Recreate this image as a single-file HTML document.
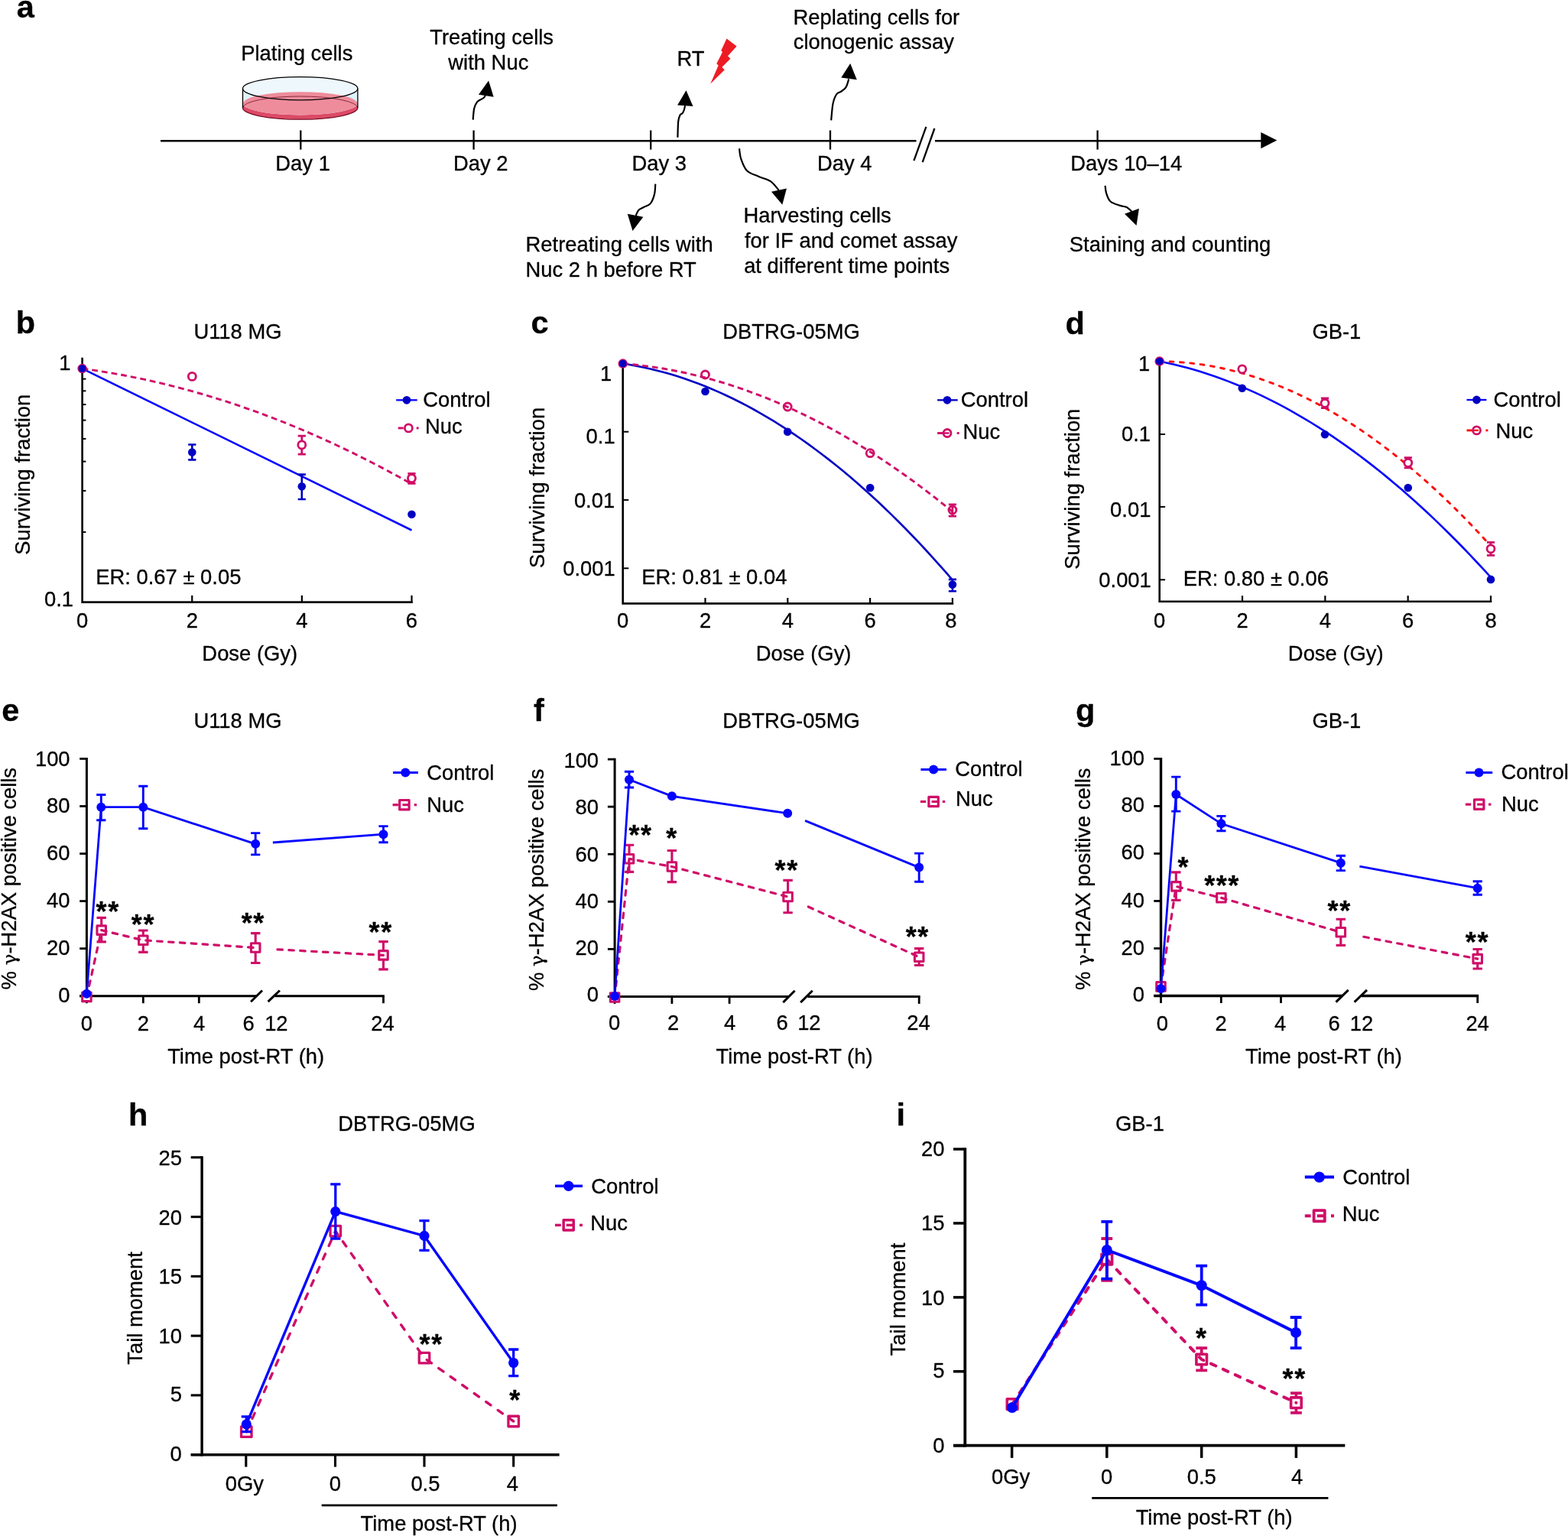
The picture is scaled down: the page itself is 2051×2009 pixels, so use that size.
<!DOCTYPE html>
<html lang="en">
<head>
<meta charset="utf-8">
<title>Figure: Nuc radiosensitization of glioblastoma cells</title>
<style>
html,body{margin:0;padding:0;background:#fff;}
body{width:2051px;height:2009px;overflow:hidden;}
svg{display:block;font-family:'Liberation Sans', 'DejaVu Sans', sans-serif;font-size:27.4px;fill:#000;}
text{stroke:#000;stroke-width:0.3px;stroke-linejoin:round;}
</style>
</head>
<body>
<svg xmlns="http://www.w3.org/2000/svg" width="2051" height="2009" viewBox="0 0 2051 2009" role="img" aria-label="Figure panels a to i">
<g id="panel-a">
<text x="21.86" y="23" font-size="41.5" font-weight="bold">a</text>
<line x1="210" y1="184.3" x2="1198.5" y2="184.3" stroke="#000" stroke-width="2.4"/>
<line x1="1223" y1="184.3" x2="1652" y2="184.3" stroke="#000" stroke-width="2.4"/>
<polygon points="1649.3,172.9 1670.3,183.6 1649.3,194.2" fill="#000"/>
<line x1="1211.4" y1="165.9" x2="1195.4" y2="210.1" stroke="#000" stroke-width="2.3"/>
<line x1="1222.4" y1="168" x2="1206.7" y2="212.1" stroke="#000" stroke-width="2.3"/>
<line x1="393.3" y1="170.5" x2="393.3" y2="195.6" stroke="#000" stroke-width="2.3"/>
<line x1="619.6" y1="170.5" x2="619.6" y2="195.6" stroke="#000" stroke-width="2.3"/>
<line x1="851.2" y1="170.5" x2="851.2" y2="195.6" stroke="#000" stroke-width="2.3"/>
<line x1="1086" y1="170.5" x2="1086" y2="195.6" stroke="#000" stroke-width="2.3"/>
<line x1="1435.6" y1="170.5" x2="1435.6" y2="195.6" stroke="#000" stroke-width="2.3"/>
<text x="360.34" y="223.2">Day 1</text>
<text x="592.94" y="223.2">Day 2</text>
<text x="826.44" y="223.2">Day 3</text>
<text x="1068.94" y="223.2">Day 4</text>
<text x="1400.14" y="223.2">Days 10–14</text>
<text x="315.24" y="79">Plating cells</text>
<text x="562.18" y="57.5">Treating cells</text>
<text x="586.3" y="90.7">with Nuc</text>
<text x="885.44" y="86.4">RT</text>
<text x="1037.54" y="31.6">Replating cells for</text>
<text x="1037.74" y="63.7">clonogenic assay</text>
<text x="687.54" y="328.9">Retreating cells with</text>
<text x="687.54" y="362.1">Nuc 2 h before RT</text>
<text x="972.44" y="291.1">Harvesting cells</text>
<text x="973.89" y="324.3">for IF and comet assay</text>
<text x="973.14" y="357.2">at different time points</text>
<text x="1398.77" y="328.6">Staining and counting</text>
<polygon points="950.5,50.4 963.6,60.4 952,73.2 955.4,76.8 944.3,87.9 947.8,91.3 929.2,109.8 939.7,85.6 937.3,83.3 945.1,68.1 943.2,66.3" fill="#ed1c24"/>
<path d="M317.5 115.7V141.1A75.2 15.1 0 0 0 467.9 141.1V115.7A75.2 15.1 0 0 0 317.5 115.7Z" fill="#dff1f9"/>
<ellipse cx="392.7" cy="115.7" rx="75.2" ry="15.1" fill="#eef8fc"/>
<path d="M317.5 135.3V141.1A75.2 15.1 0 0 0 467.9 141.1V135.3A75.2 15.1 0 0 1 317.5 135.3Z" fill="#dc4a66"/>
<ellipse cx="392.7" cy="135.3" rx="74.6" ry="15.1" fill="#ee8c9b"/>
<path d="M317.5 141.1A75.2 15.1 0 0 1 467.9 141.1" fill="none" stroke="#8a2a3c" stroke-width="1"/>
<path d="M317.5 141.1A75.2 15.1 0 0 0 467.9 141.1" fill="none" stroke="#7a1026" stroke-width="1.3"/>
<ellipse cx="392.7" cy="115.7" rx="75.2" ry="15.1" fill="none" stroke="#000" stroke-width="1.3"/>
<line x1="317.5" y1="115.7" x2="317.5" y2="141.1" stroke="#000" stroke-width="1.3"/>
<line x1="467.9" y1="115.7" x2="467.9" y2="141.1" stroke="#000" stroke-width="1.3"/>
<path d="M618.7 156.6C618.95 154.15 619.3 145.77 620.2 141.9C621.1 138.03 622.68 135.33 624.1 133.4C625.52 131.47 627.28 131.2 628.7 130.3C630.12 129.4 631.57 128.9 632.6 128C633.63 127.1 634.52 125.42 634.9 124.9" fill="none" stroke="#000" stroke-width="2.2"/>
<polygon points="639.1,105.6 626,123.7 645.7,126.8" fill="#000"/>
<path d="M886.4 179.7C886.53 176.23 886.68 163.78 887.2 158.9C887.72 154.02 888.6 152.2 889.5 150.4C890.4 148.6 891.7 149.25 892.6 148.1C893.5 146.95 894.33 145.17 894.9 143.5C895.47 141.83 895.82 139 896 138.1" fill="none" stroke="#000" stroke-width="2.2"/>
<polygon points="897.5,118.3 886.1,137.6 906.5,139.1" fill="#000"/>
<path d="M1087.2 157.4C1087.58 153.8 1088.35 141.45 1089.5 135.8C1090.65 130.15 1092.3 126.2 1094.1 123.5C1095.9 120.8 1098.23 121.15 1100.3 119.6C1102.37 118.05 1104.83 116.9 1106.5 114.2C1108.17 111.5 1109.67 105.2 1110.3 103.4" fill="none" stroke="#000" stroke-width="2.2"/>
<polygon points="1112.2,83 1100.3,101.5 1120.8,104.2" fill="#000"/>
<path d="M857.3 240.6C857.08 242.85 857.12 249.8 856 254.1C854.88 258.4 852.92 263.58 850.6 266.4C848.28 269.22 844.67 269.58 842.1 271C839.53 272.42 836.92 273.08 835.2 274.9C833.48 276.72 832.37 280.73 831.8 281.9" fill="none" stroke="#000" stroke-width="2.2"/>
<polygon points="827.5,301.9 820.8,279.8 841.4,283.7" fill="#000"/>
<path d="M967 194.2C967.38 196.47 967.63 202.97 969.3 207.8C970.97 212.63 973.13 219.35 977 223.2C980.87 227.05 987.35 228.58 992.5 230.9C997.65 233.22 1003.53 234.13 1007.9 237.1C1012.27 240.07 1016.9 246.77 1018.7 248.7" fill="none" stroke="#000" stroke-width="2.2"/>
<polygon points="1023.3,267.7 1009,250.7 1029,246.4" fill="#000"/>
<path d="M1445.6 242.9C1445.85 244.53 1445.95 249.27 1447.1 252.7C1448.25 256.13 1449.53 260.8 1452.5 263.5C1455.47 266.2 1461.3 267.62 1464.9 268.9C1468.5 270.18 1471.53 269.92 1474.1 271.2C1476.67 272.48 1479.27 275.7 1480.3 276.6" fill="none" stroke="#000" stroke-width="2.2"/>
<polygon points="1486.5,295.1 1471,279.7 1489.9,272.7" fill="#000"/>
</g>
<g id="panel-b">
<text x="20.7" y="436.3" font-size="41.5" font-weight="bold">b</text>
<text x="253.4" y="443.2">U118 MG</text>
<path d="M107.6 467.8V787.6H539.82" fill="none" stroke="#000" stroke-width="2.6" stroke-linejoin="miter"/>
<line x1="251.24" y1="787.6" x2="251.24" y2="778.8" stroke="#000" stroke-width="2.2"/>
<line x1="394.88" y1="787.6" x2="394.88" y2="778.8" stroke="#000" stroke-width="2.2"/>
<line x1="538.52" y1="787.6" x2="538.52" y2="778.8" stroke="#000" stroke-width="2.2"/>
<text x="99.96" y="821.2">0</text>
<text x="243.64" y="821.2">2</text>
<text x="387.34" y="821.2">4</text>
<text x="530.81" y="821.2">6</text>
<line x1="107.6" y1="695.9" x2="112.4" y2="695.9" stroke="#000" stroke-width="2"/>
<line x1="107.6" y1="641.91" x2="112.4" y2="641.91" stroke="#000" stroke-width="2"/>
<line x1="107.6" y1="603.61" x2="112.4" y2="603.61" stroke="#000" stroke-width="2"/>
<line x1="107.6" y1="573.9" x2="112.4" y2="573.9" stroke="#000" stroke-width="2"/>
<line x1="107.6" y1="549.62" x2="112.4" y2="549.62" stroke="#000" stroke-width="2"/>
<line x1="107.6" y1="529.09" x2="112.4" y2="529.09" stroke="#000" stroke-width="2"/>
<line x1="107.6" y1="511.31" x2="112.4" y2="511.31" stroke="#000" stroke-width="2"/>
<line x1="107.6" y1="495.63" x2="112.4" y2="495.63" stroke="#000" stroke-width="2"/>
<text x="77.15" y="484.4">1</text>
<text x="58" y="792.8">0.1</text>
<text x="264.36" y="864.2">Dose (Gy)</text>
<text transform="translate(39.3 725.83) rotate(-90)">Surviving fraction</text>
<text x="125.24" y="763.9">ER: 0.67 ± 0.05</text>
<polyline points="107.6,482.1 538.5,693.5" fill="none" stroke="#0505ff" stroke-width="2.6" stroke-linejoin="round"/>
<polyline points="107.6,482.1 116.58,483.34 125.55,484.67 134.53,486.07 143.51,487.56 152.49,489.12 161.46,490.77 170.44,492.5 179.42,494.31 188.4,496.2 197.38,498.17 206.35,500.22 215.33,502.36 224.31,504.57 233.28,506.87 242.26,509.24 251.24,511.7 260.22,514.24 269.19,516.86 278.17,519.56 287.15,522.34 296.13,525.2 305.11,528.14 314.08,531.17 323.06,534.27 332.04,537.46 341.01,540.72 349.99,544.07 358.97,547.5 367.95,551.01 376.92,554.6 385.9,558.27 394.88,562.02 403.86,565.85 412.83,569.77 421.81,573.76 430.79,577.84 439.77,581.99 448.75,586.23 457.72,590.55 466.7,594.95 475.68,599.43 484.65,603.99 493.63,608.63 502.61,613.36 511.59,618.16 520.56,623.05 529.54,628.01 538.52,633.06" fill="none" stroke="#cf0d68" stroke-width="2.9" stroke-linejoin="round" stroke-dasharray="7.8 5"/>
<circle cx="251.3" cy="492.4" r="5" fill="#fff" stroke="#cf0d68" stroke-width="2.8"/>
<path d="M389.7 570.1H399.9M394.8 570.1V594.1M389.7 594.1H399.9" fill="none" stroke="#cf0d68" stroke-width="2.8"/>
<circle cx="394.8" cy="581.9" r="5" fill="#fff" stroke="#cf0d68" stroke-width="2.8"/>
<path d="M533.4 619.3H543.6M538.5 619.3V632.3M533.4 632.3H543.6" fill="none" stroke="#cf0d68" stroke-width="2.8"/>
<circle cx="538.5" cy="625.6" r="5" fill="#fff" stroke="#cf0d68" stroke-width="2.8"/>
<path d="M246.2 581.5H256.4M251.3 581.5V601.4M246.2 601.4H256.4" fill="none" stroke="#0000c4" stroke-width="2.6"/>
<circle cx="251.3" cy="591.5" r="5.3" fill="#0000c4"/>
<path d="M389.7 620.6H399.9M394.8 620.6V653M389.7 653H399.9" fill="none" stroke="#0000c4" stroke-width="2.6"/>
<circle cx="394.8" cy="636.2" r="5.3" fill="#0000c4"/>
<circle cx="538.5" cy="672.8" r="5.3" fill="#0000c4"/>
<circle cx="107.6" cy="482.1" r="5.6" fill="#0000c4" stroke="#cf0d68" stroke-width="1.3"/>
<line x1="518.2" y1="523.3" x2="545.7" y2="523.3" stroke="#0505ff" stroke-width="2.3"/>
<circle cx="532" cy="523.3" r="5.4" fill="#0000c4"/>
<text x="553.33" y="532.3">Control</text>
<line x1="520.7" y1="559.9" x2="527.7" y2="559.9" stroke="#cf0d68" stroke-width="2.9"/>
<line x1="544.7" y1="559.9" x2="547.7" y2="559.9" stroke="#cf0d68" stroke-width="2.9"/>
<circle cx="534.4" cy="559.9" r="5" fill="#fff" stroke="#cf0d68" stroke-width="2.8"/>
<text x="556.04" y="567.4">Nuc</text>
</g>
<g id="panel-c">
<text x="694.54" y="436.3" font-size="41.5" font-weight="bold">c</text>
<text x="945.23" y="443.2">DBTRG-05MG</text>
<path d="M814.7 475.6V789.4H1247.2" fill="none" stroke="#000" stroke-width="2.6" stroke-linejoin="miter"/>
<line x1="922.5" y1="789.4" x2="922.5" y2="782" stroke="#000" stroke-width="2.2"/>
<line x1="1030.3" y1="789.4" x2="1030.3" y2="782" stroke="#000" stroke-width="2.2"/>
<line x1="1138.1" y1="789.4" x2="1138.1" y2="782" stroke="#000" stroke-width="2.2"/>
<line x1="1245.9" y1="789.4" x2="1245.9" y2="782" stroke="#000" stroke-width="2.2"/>
<text x="807.06" y="821.3">0</text>
<text x="914.9" y="821.3">2</text>
<text x="1022.76" y="821.3">4</text>
<text x="1130.39" y="821.3">6</text>
<text x="1236.3" y="821.3">8</text>
<line x1="814.7" y1="564.7" x2="822.3" y2="564.7" stroke="#000" stroke-width="2"/>
<line x1="814.7" y1="653.9" x2="822.3" y2="653.9" stroke="#000" stroke-width="2"/>
<line x1="814.7" y1="743.3" x2="822.3" y2="743.3" stroke="#000" stroke-width="2"/>
<text x="785.05" y="498.1">1</text>
<text x="766.6" y="579.5">0.1</text>
<text x="750.9" y="664.3">0.01</text>
<text x="736.2" y="752.5">0.001</text>
<text x="988.66" y="864.2">Dose (Gy)</text>
<text transform="translate(712 742.93) rotate(-90)">Surviving fraction</text>
<text x="839.24" y="763.9">ER: 0.81 ± 0.04</text>
<polyline points="814.7,475.6 823.68,477.03 832.67,478.65 841.65,480.46 850.63,482.46 859.62,484.65 868.6,487.03 877.58,489.6 886.57,492.36 895.55,495.31 904.53,498.45 913.52,501.78 922.5,505.3 931.48,509.01 940.47,512.91 949.45,517 958.43,521.28 967.42,525.75 976.4,530.41 985.38,535.26 994.37,540.3 1003.35,545.53 1012.33,550.95 1021.32,556.56 1030.3,562.36 1039.28,568.35 1048.27,574.53 1057.25,580.9 1066.23,587.46 1075.22,594.21 1084.2,601.15 1093.18,608.28 1102.17,615.6 1111.15,623.11 1120.13,630.81 1129.12,638.7 1138.1,646.78 1147.08,655.05 1156.07,663.51 1165.05,672.16 1174.03,681 1183.02,690.03 1192,699.25 1200.98,708.66 1209.97,718.26 1218.95,728.05 1227.93,738.03 1236.92,748.2 1245.9,758.56" fill="none" stroke="#0000c4" stroke-width="2.6" stroke-linejoin="round"/>
<polyline points="814.7,475.6 823.68,476.37 832.67,477.28 841.65,478.33 850.63,479.51 859.62,480.84 868.6,482.3 877.58,483.9 886.57,485.64 895.55,487.53 904.53,489.54 913.52,491.7 922.5,494 931.48,496.44 940.47,499.01 949.45,501.73 958.43,504.58 967.42,507.57 976.4,510.7 985.38,513.97 994.37,517.38 1003.35,520.92 1012.33,524.61 1021.32,528.44 1030.3,532.4 1039.28,536.5 1048.27,540.74 1057.25,545.12 1066.23,549.64 1075.22,554.3 1084.2,559.1 1093.18,564.04 1102.17,569.11 1111.15,574.33 1120.13,579.68 1129.12,585.17 1138.1,590.8 1147.08,596.57 1156.07,602.48 1165.05,608.53 1174.03,614.71 1183.02,621.04 1192,627.5 1200.98,634.1 1209.97,640.84 1218.95,647.73 1227.93,654.74 1236.92,661.9 1245.9,669.2" fill="none" stroke="#cf0d68" stroke-width="2.9" stroke-linejoin="round" stroke-dasharray="7.8 5"/>
<circle cx="922.5" cy="490" r="5" fill="none" stroke="#cf0d68" stroke-width="2.8"/>
<circle cx="1030.2" cy="532" r="5" fill="none" stroke="#cf0d68" stroke-width="2.8"/>
<circle cx="1138.2" cy="592.7" r="5" fill="none" stroke="#cf0d68" stroke-width="2.8"/>
<path d="M1240.8 659.8H1251M1245.9 659.8V675.1M1240.8 675.1H1251" fill="none" stroke="#cf0d68" stroke-width="2.8"/>
<circle cx="1245.9" cy="667" r="5" fill="none" stroke="#cf0d68" stroke-width="2.8"/>
<circle cx="922.5" cy="512" r="5.3" fill="#0000c4"/>
<circle cx="1030.2" cy="564.7" r="5.3" fill="#0000c4"/>
<circle cx="1138.2" cy="638" r="5.3" fill="#0000c4"/>
<path d="M1240.8 757.9H1251M1245.9 757.9V773.2M1240.8 773.2H1251" fill="none" stroke="#0000c4" stroke-width="2.6"/>
<circle cx="1245.9" cy="764.6" r="5.3" fill="#0000c4"/>
<circle cx="814.7" cy="475.6" r="5.6" fill="#0000c4" stroke="#cf0d68" stroke-width="1.3"/>
<line x1="1226.1" y1="523.3" x2="1252.7" y2="523.3" stroke="#0000c4" stroke-width="2.3"/>
<circle cx="1239" cy="523.3" r="5.4" fill="#0000c4"/>
<text x="1256.73" y="532.3">Control</text>
<line x1="1226.1" y1="566.5" x2="1233.1" y2="566.5" stroke="#cf0d68" stroke-width="2.9"/>
<line x1="1251.7" y1="566.5" x2="1254.7" y2="566.5" stroke="#cf0d68" stroke-width="2.9"/>
<circle cx="1239" cy="566.5" r="5" fill="#fff" stroke="#cf0d68" stroke-width="2.8"/>
<line x1="1234.5" y1="566.5" x2="1241.5" y2="566.5" stroke="#cf0d68" stroke-width="2.4"/>
<text x="1259.44" y="573.7">Nuc</text>
</g>
<g id="panel-d">
<text x="1393.54" y="436.5" font-size="41.5" font-weight="bold">d</text>
<text x="1716.41" y="443.2">GB-1</text>
<path d="M1516.7 472.6V786.7H1951.28" fill="none" stroke="#000" stroke-width="2.6" stroke-linejoin="miter"/>
<line x1="1625.02" y1="786.7" x2="1625.02" y2="779.1" stroke="#000" stroke-width="2.2"/>
<line x1="1733.34" y1="786.7" x2="1733.34" y2="779.1" stroke="#000" stroke-width="2.2"/>
<line x1="1841.66" y1="786.7" x2="1841.66" y2="779.1" stroke="#000" stroke-width="2.2"/>
<line x1="1949.98" y1="786.7" x2="1949.98" y2="779.1" stroke="#000" stroke-width="2.2"/>
<text x="1509.06" y="821.3">0</text>
<text x="1617.42" y="821.3">2</text>
<text x="1725.81" y="821.3">4</text>
<text x="1833.95" y="821.3">6</text>
<text x="1942.38" y="821.3">8</text>
<line x1="1516.7" y1="568" x2="1524.1" y2="568" stroke="#000" stroke-width="2"/>
<line x1="1516.7" y1="662.9" x2="1524.1" y2="662.9" stroke="#000" stroke-width="2"/>
<line x1="1516.7" y1="758.3" x2="1524.1" y2="758.3" stroke="#000" stroke-width="2"/>
<text x="1488.94" y="484.6">1</text>
<text x="1467" y="577.3">0.1</text>
<text x="1452.1" y="676">0.01</text>
<text x="1437.3" y="767.5">0.001</text>
<text x="1684.86" y="864.2">Dose (Gy)</text>
<text transform="translate(1412.3 744.73) rotate(-90)">Surviving fraction</text>
<text x="1547.74" y="765.7">ER: 0.80 ± 0.06</text>
<polyline points="1516.7,472.6 1525.73,474.45 1534.75,476.48 1543.78,478.67 1552.81,481.04 1561.83,483.58 1570.86,486.29 1579.89,489.17 1588.91,492.23 1597.94,495.45 1606.97,498.85 1615.99,502.42 1625.02,506.16 1634.05,510.07 1643.07,514.16 1652.1,518.41 1661.13,522.84 1670.15,527.44 1679.18,532.21 1688.21,537.15 1697.23,542.27 1706.26,547.55 1715.29,553.01 1724.31,558.64 1733.34,564.44 1742.37,570.41 1751.39,576.56 1760.42,582.87 1769.45,589.36 1778.47,596.02 1787.5,602.85 1796.53,609.85 1805.55,617.03 1814.58,624.37 1823.61,631.89 1832.63,639.58 1841.66,647.44 1850.69,655.47 1859.71,663.68 1868.74,672.05 1877.77,680.6 1886.79,689.32 1895.82,698.21 1904.85,707.27 1913.87,716.51 1922.9,725.91 1931.93,735.49 1940.95,745.24 1949.98,755.16" fill="none" stroke="#0505ff" stroke-width="2.6" stroke-linejoin="round"/>
<polyline points="1516.7,472.6 1525.73,472.76 1534.75,473.13 1543.78,473.7 1552.81,474.48 1561.83,475.47 1570.86,476.67 1579.89,478.07 1588.91,479.68 1597.94,481.5 1606.97,483.53 1615.99,485.76 1625.02,488.2 1634.05,490.85 1643.07,493.7 1652.1,496.76 1661.13,500.03 1670.15,503.51 1679.18,507.19 1688.21,511.08 1697.23,515.18 1706.26,519.48 1715.29,523.99 1724.31,528.71 1733.34,533.64 1742.37,538.77 1751.39,544.11 1760.42,549.66 1769.45,555.42 1778.47,561.38 1787.5,567.55 1796.53,573.93 1805.55,580.51 1814.58,587.3 1823.61,594.3 1832.63,601.51 1841.66,608.92 1850.69,616.54 1859.71,624.37 1868.74,632.4 1877.77,640.64 1886.79,649.09 1895.82,657.75 1904.85,666.61 1913.87,675.68 1922.9,684.96 1931.93,694.45 1940.95,704.14 1949.98,714.04" fill="none" stroke="#ff0d0d" stroke-width="2.9" stroke-dasharray="4.9 8.5" stroke-linecap="round" stroke-linejoin="round"/>
<circle cx="1624.8" cy="482.8" r="5" fill="#fff" stroke="#cf0d68" stroke-width="2.8"/>
<path d="M1727.9 521H1738.1M1733 521V533.6M1727.9 533.6H1738.1" fill="none" stroke="#cf0d68" stroke-width="2.8"/>
<circle cx="1733" cy="527.3" r="5" fill="#fff" stroke="#cf0d68" stroke-width="2.8"/>
<path d="M1836.7 598.6H1846.9M1841.8 598.6V611.9M1836.7 611.9H1846.9" fill="none" stroke="#cf0d68" stroke-width="2.8"/>
<circle cx="1841.8" cy="605.3" r="5" fill="#fff" stroke="#cf0d68" stroke-width="2.8"/>
<path d="M1944.9 709.3H1955.1M1950 709.3V726.4M1944.9 726.4H1955.1" fill="none" stroke="#cf0d68" stroke-width="2.8"/>
<circle cx="1950" cy="717.8" r="5" fill="#fff" stroke="#cf0d68" stroke-width="2.8"/>
<circle cx="1624.8" cy="507.7" r="5.3" fill="#0000c4"/>
<circle cx="1733" cy="568.3" r="5.3" fill="#0000c4"/>
<circle cx="1841.8" cy="638" r="5.3" fill="#0000c4"/>
<circle cx="1950" cy="757.9" r="5.3" fill="#0000c4"/>
<circle cx="1516.7" cy="472.6" r="5.6" fill="#0000c4" stroke="#cf0d68" stroke-width="1.3"/>
<line x1="1918.5" y1="523" x2="1944.4" y2="523" stroke="#0505ff" stroke-width="2.3"/>
<circle cx="1931.5" cy="523" r="5.4" fill="#0000c4"/>
<text x="1953.53" y="531.6">Control</text>
<line x1="1918.5" y1="562.9" x2="1925.5" y2="562.9" stroke="#ff0d0d" stroke-width="2.9"/>
<line x1="1943.4" y1="562.9" x2="1946.4" y2="562.9" stroke="#ff0d0d" stroke-width="2.9"/>
<circle cx="1931.5" cy="562.9" r="5" fill="#fff" stroke="#cf0d68" stroke-width="2.8"/>
<line x1="1927" y1="562.9" x2="1934" y2="562.9" stroke="#ff0d0d" stroke-width="2.4"/>
<text x="1956.54" y="572.8">Nuc</text>
</g>
<g id="panel-e">
<text x="2.34" y="943.2" font-size="41.5" font-weight="bold">e</text>
<text x="253.4" y="951.9">U118 MG</text>
<line x1="113.4" y1="991.1" x2="113.4" y2="1304.2" stroke="#000" stroke-width="3"/>
<line x1="104.2" y1="1302.7" x2="113.4" y2="1302.7" stroke="#000" stroke-width="2.8"/>
<text x="76.32" y="1311.1">0</text>
<line x1="104.2" y1="1240.64" x2="113.4" y2="1240.64" stroke="#000" stroke-width="2.8"/>
<text x="61.11" y="1249.4">20</text>
<line x1="104.2" y1="1178.58" x2="113.4" y2="1178.58" stroke="#000" stroke-width="2.8"/>
<text x="61.11" y="1187.3">40</text>
<line x1="104.2" y1="1116.52" x2="113.4" y2="1116.52" stroke="#000" stroke-width="2.8"/>
<text x="61.11" y="1125.1">60</text>
<line x1="104.2" y1="1054.46" x2="113.4" y2="1054.46" stroke="#000" stroke-width="2.8"/>
<text x="61.11" y="1062.9">80</text>
<line x1="104.2" y1="992.4" x2="113.4" y2="992.4" stroke="#000" stroke-width="2.8"/>
<text x="45.91" y="1001.7">100</text>
<line x1="104.2" y1="1302.7" x2="336" y2="1302.7" stroke="#000" stroke-width="3"/>
<line x1="359.5" y1="1302.7" x2="502.9" y2="1302.7" stroke="#000" stroke-width="3"/>
<line x1="113.4" y1="1302.7" x2="113.4" y2="1312.2" stroke="#000" stroke-width="2.8"/>
<line x1="187.3" y1="1302.7" x2="187.3" y2="1312.2" stroke="#000" stroke-width="2.8"/>
<line x1="260.3" y1="1302.7" x2="260.3" y2="1312.2" stroke="#000" stroke-width="2.8"/>
<line x1="501.5" y1="1302.7" x2="501.5" y2="1312.2" stroke="#000" stroke-width="2.8"/>
<line x1="328.1" y1="1310.2" x2="343" y2="1295.5" stroke="#000" stroke-width="3"/>
<line x1="350.6" y1="1310.2" x2="365.9" y2="1295.5" stroke="#000" stroke-width="3"/>
<text x="105.76" y="1347.7">0</text>
<text x="179.7" y="1347.7">2</text>
<text x="252.97" y="1347.7">4</text>
<text x="317.59" y="1347.7">6</text>
<text x="346.15" y="1347.7">12</text>
<text x="485.28" y="1347.7">24</text>
<text x="219.15" y="1391.3">Time post-RT (h)</text>
<text text-anchor="end" transform="translate(20.5 1003.94) rotate(-90)">% <tspan font-family="'DejaVu Serif', 'Liberation Serif', serif" font-size="25" stroke-width="0.2">γ</tspan>-H2AX positive cells</text>
<path d="M126.5 1200.4H138.9M132.7 1200.4V1231.9M126.5 1231.9H138.9" fill="none" stroke="#cf0d68" stroke-width="3.1"/>
<path d="M181.1 1217H193.5M187.3 1217V1245.4M181.1 1245.4H193.5" fill="none" stroke="#cf0d68" stroke-width="3.1"/>
<path d="M328 1220.6H340.4M334.2 1220.6V1259.5M328 1259.5H340.4" fill="none" stroke="#cf0d68" stroke-width="3.1"/>
<path d="M495.3 1231.6H507.7M501.5 1231.6V1267.9M495.3 1267.9H507.7" fill="none" stroke="#cf0d68" stroke-width="3.1"/>
<rect x="107.65" y="1298.15" width="11.5" height="11.5" fill="#fff" stroke="#cf0d68" stroke-width="3.1" stroke-linejoin="round"/>
<rect x="126.95" y="1210.85" width="11.5" height="11.5" fill="#fff" stroke="#cf0d68" stroke-width="3.1" stroke-linejoin="round"/>
<rect x="181.55" y="1224.05" width="11.5" height="11.5" fill="#fff" stroke="#cf0d68" stroke-width="3.1" stroke-linejoin="round"/>
<rect x="328.45" y="1233.75" width="11.5" height="11.5" fill="#fff" stroke="#cf0d68" stroke-width="3.1" stroke-linejoin="round"/>
<rect x="495.75" y="1243.65" width="11.5" height="11.5" fill="#fff" stroke="#cf0d68" stroke-width="3.1" stroke-linejoin="round"/>
<polyline points="113.4,1303.9 132.7,1216.6 187.3,1229.8 334.2,1239.5" fill="none" stroke="#cf0d68" stroke-width="3.2" stroke-linejoin="round" stroke-dasharray="6.6 8.3" stroke-linecap="round"/>
<polyline points="362.9,1241.8 501.5,1249.4" fill="none" stroke="#cf0d68" stroke-width="3.2" stroke-linejoin="round" stroke-dasharray="6.6 8.3" stroke-linecap="round"/>
<path d="M126.2 1039.5H138.4M132.3 1039.5V1072.8M126.2 1072.8H138.4" fill="none" stroke="#0505ff" stroke-width="2.9"/>
<path d="M181.2 1028.2H193.4M187.3 1028.2V1083.7M181.2 1083.7H193.4" fill="none" stroke="#0505ff" stroke-width="2.9"/>
<path d="M328.1 1089.6H340.3M334.2 1089.6V1117.9M328.1 1117.9H340.3" fill="none" stroke="#0505ff" stroke-width="2.9"/>
<path d="M495.4 1080.6H507.6M501.5 1080.6V1101.7M495.4 1101.7H507.6" fill="none" stroke="#0505ff" stroke-width="2.9"/>
<polyline points="113.4,1299.8 132.3,1055.7 187.3,1055.7 334.2,1103.8" fill="none" stroke="#0505ff" stroke-width="2.8" stroke-linejoin="miter"/>
<polyline points="356.9,1102 501.5,1091.2" fill="none" stroke="#0505ff" stroke-width="2.8" stroke-linejoin="miter"/>
<circle cx="113.4" cy="1299.8" r="6" fill="#0505ff"/>
<circle cx="132.3" cy="1055.7" r="6" fill="#0505ff"/>
<circle cx="187.3" cy="1055.7" r="6" fill="#0505ff"/>
<circle cx="334.2" cy="1103.8" r="6" fill="#0505ff"/>
<circle cx="501.5" cy="1091.2" r="6" fill="#0505ff"/>
<text x="125.56" y="1204.5" font-size="36" font-weight="bold" letter-spacing="1.6">**</text>
<text x="171.86" y="1221.6" font-size="36" font-weight="bold" letter-spacing="1.6">**</text>
<text x="315.76" y="1220.3" font-size="36" font-weight="bold" letter-spacing="1.6">**</text>
<text x="482.56" y="1232.4" font-size="36" font-weight="bold" letter-spacing="1.6">**</text>
<line x1="514.1" y1="1010.4" x2="546.9" y2="1010.4" stroke="#0505ff" stroke-width="3"/>
<circle cx="530.3" cy="1010.4" r="6" fill="#0505ff"/>
<text x="558.13" y="1019.7">Control</text>
<line x1="513.6" y1="1052.7" x2="520.9" y2="1052.7" stroke="#cf0d68" stroke-width="3.2"/>
<line x1="541.7" y1="1052.7" x2="545.1" y2="1052.7" stroke="#cf0d68" stroke-width="3.2"/>
<rect x="522.7" y="1046.5" width="12.4" height="12.4" fill="#fff" stroke="#cf0d68" stroke-width="3.2" stroke-linejoin="round"/>
<line x1="526.4" y1="1052.7" x2="534.4" y2="1052.7" stroke="#cf0d68" stroke-width="3"/>
<text x="558.24" y="1061.7">Nuc</text>
</g>
<g id="panel-f">
<text x="698.07" y="943.2" font-size="41.5" font-weight="bold">f</text>
<text x="945.23" y="951.9">DBTRG-05MG</text>
<line x1="804.1" y1="991.8" x2="804.1" y2="1304.9" stroke="#000" stroke-width="3"/>
<line x1="794.9" y1="1303.4" x2="804.1" y2="1303.4" stroke="#000" stroke-width="2.8"/>
<text x="767.82" y="1310.2">0</text>
<line x1="794.9" y1="1241.34" x2="804.1" y2="1241.34" stroke="#000" stroke-width="2.8"/>
<text x="752.61" y="1249.4">20</text>
<line x1="794.9" y1="1179.28" x2="804.1" y2="1179.28" stroke="#000" stroke-width="2.8"/>
<text x="752.61" y="1187.8">40</text>
<line x1="794.9" y1="1117.22" x2="804.1" y2="1117.22" stroke="#000" stroke-width="2.8"/>
<text x="752.61" y="1126.5">60</text>
<line x1="794.9" y1="1055.16" x2="804.1" y2="1055.16" stroke="#000" stroke-width="2.8"/>
<text x="752.61" y="1064.7">80</text>
<line x1="794.9" y1="993.1" x2="804.1" y2="993.1" stroke="#000" stroke-width="2.8"/>
<text x="737.41" y="1003.5">100</text>
<line x1="794.9" y1="1303.4" x2="1032" y2="1303.4" stroke="#000" stroke-width="3"/>
<line x1="1056.5" y1="1303.4" x2="1203.6" y2="1303.4" stroke="#000" stroke-width="3"/>
<line x1="804.1" y1="1303.4" x2="804.1" y2="1312.9" stroke="#000" stroke-width="2.8"/>
<line x1="878.9" y1="1303.4" x2="878.9" y2="1312.9" stroke="#000" stroke-width="2.8"/>
<line x1="954.1" y1="1303.4" x2="954.1" y2="1312.9" stroke="#000" stroke-width="2.8"/>
<line x1="1202.2" y1="1303.4" x2="1202.2" y2="1312.9" stroke="#000" stroke-width="2.8"/>
<line x1="1024.3" y1="1311.1" x2="1039.6" y2="1295.8" stroke="#000" stroke-width="3"/>
<line x1="1047.2" y1="1311.1" x2="1062.7" y2="1295.8" stroke="#000" stroke-width="3"/>
<text x="795.96" y="1346.6">0</text>
<text x="873.1" y="1346.6">2</text>
<text x="946.97" y="1346.6">4</text>
<text x="1015.39" y="1346.6">6</text>
<text x="1043.15" y="1346.6">12</text>
<text x="1186.18" y="1346.6">24</text>
<text x="936.55" y="1391.3">Time post-RT (h)</text>
<text text-anchor="end" transform="translate(711.1 1005.64) rotate(-90)">% <tspan font-family="'DejaVu Serif', 'Liberation Serif', serif" font-size="25" stroke-width="0.2">γ</tspan>-H2AX positive cells</text>
<path d="M816.8 1105.3H829.2M823 1105.3V1140.4M816.8 1140.4H829.2" fill="none" stroke="#cf0d68" stroke-width="3.1"/>
<path d="M872.7 1112.5H885.1M878.9 1112.5V1153.6M872.7 1153.6H885.1" fill="none" stroke="#cf0d68" stroke-width="3.1"/>
<path d="M1024.4 1151.4H1036.8M1030.6 1151.4V1193.8M1024.4 1193.8H1036.8" fill="none" stroke="#cf0d68" stroke-width="3.1"/>
<path d="M1196 1240.6H1208.4M1202.2 1240.6V1262.5M1196 1262.5H1208.4" fill="none" stroke="#cf0d68" stroke-width="3.1"/>
<rect x="798.35" y="1298.75" width="11.5" height="11.5" fill="#fff" stroke="#cf0d68" stroke-width="3.1" stroke-linejoin="round"/>
<rect x="817.25" y="1117.55" width="11.5" height="11.5" fill="#fff" stroke="#cf0d68" stroke-width="3.1" stroke-linejoin="round"/>
<rect x="873.15" y="1127.75" width="11.5" height="11.5" fill="#fff" stroke="#cf0d68" stroke-width="3.1" stroke-linejoin="round"/>
<rect x="1024.85" y="1167.25" width="11.5" height="11.5" fill="#fff" stroke="#cf0d68" stroke-width="3.1" stroke-linejoin="round"/>
<rect x="1196.45" y="1245.95" width="11.5" height="11.5" fill="#fff" stroke="#cf0d68" stroke-width="3.1" stroke-linejoin="round"/>
<polyline points="804.1,1304.5 823,1123.3 878.9,1133.5 1030.6,1173" fill="none" stroke="#cf0d68" stroke-width="3.2" stroke-linejoin="round" stroke-dasharray="6.6 8.3" stroke-linecap="round"/>
<polyline points="1057.3,1186 1202.2,1251.7" fill="none" stroke="#cf0d68" stroke-width="3.2" stroke-linejoin="round" stroke-dasharray="6.6 8.3" stroke-linecap="round"/>
<path d="M816.9 1009.3H829.1M823 1009.3V1030M816.9 1030H829.1" fill="none" stroke="#0505ff" stroke-width="2.9"/>
<path d="M1196.1 1116.1H1208.3M1202.2 1116.1V1153.2M1196.1 1153.2H1208.3" fill="none" stroke="#0505ff" stroke-width="2.9"/>
<polyline points="804.1,1303 823,1019.7 878.9,1041.3 1030.2,1063.8" fill="none" stroke="#0505ff" stroke-width="2.8" stroke-linejoin="miter"/>
<polyline points="1053.1,1073.4 1202.2,1134.6" fill="none" stroke="#0505ff" stroke-width="2.8" stroke-linejoin="miter"/>
<circle cx="804.1" cy="1303" r="6" fill="#0505ff"/>
<circle cx="823" cy="1019.7" r="6" fill="#0505ff"/>
<circle cx="878.9" cy="1041.3" r="6" fill="#0505ff"/>
<circle cx="1030.2" cy="1063.8" r="6" fill="#0505ff"/>
<circle cx="1202.2" cy="1134.6" r="6" fill="#0505ff"/>
<text x="822.46" y="1104.9" font-size="36" font-weight="bold" letter-spacing="1.6">**</text>
<text x="871.18" y="1109.3" font-size="36" font-weight="bold" letter-spacing="1.6">*</text>
<text x="1013.56" y="1150.8" font-size="36" font-weight="bold" letter-spacing="1.6">**</text>
<text x="1184.66" y="1237.8" font-size="36" font-weight="bold" letter-spacing="1.6">**</text>
<line x1="1204.4" y1="1006.6" x2="1238" y2="1006.6" stroke="#0505ff" stroke-width="3"/>
<circle cx="1221.1" cy="1006.6" r="6" fill="#0505ff"/>
<text x="1249.23" y="1015.2">Control</text>
<line x1="1203.9" y1="1048.5" x2="1211.2" y2="1048.5" stroke="#cf0d68" stroke-width="3.2"/>
<line x1="1232.8" y1="1048.5" x2="1236.2" y2="1048.5" stroke="#cf0d68" stroke-width="3.2"/>
<rect x="1214.9" y="1042.3" width="12.4" height="12.4" fill="#fff" stroke="#cf0d68" stroke-width="3.2" stroke-linejoin="round"/>
<line x1="1218.6" y1="1048.5" x2="1226.6" y2="1048.5" stroke="#cf0d68" stroke-width="3"/>
<text x="1249.94" y="1053.9">Nuc</text>
</g>
<g id="panel-g">
<text x="1407.04" y="943.2" font-size="41.5" font-weight="bold">g</text>
<text x="1716.41" y="951.9">GB-1</text>
<line x1="1518.5" y1="990.9" x2="1518.5" y2="1304.2" stroke="#000" stroke-width="3.4"/>
<line x1="1509.3" y1="1302.5" x2="1518.5" y2="1302.5" stroke="#000" stroke-width="2.8"/>
<text x="1481.82" y="1310.2">0</text>
<line x1="1509.3" y1="1240.48" x2="1518.5" y2="1240.48" stroke="#000" stroke-width="2.8"/>
<text x="1466.61" y="1248.7">20</text>
<line x1="1509.3" y1="1178.46" x2="1518.5" y2="1178.46" stroke="#000" stroke-width="2.8"/>
<text x="1466.61" y="1186.5">40</text>
<line x1="1509.3" y1="1116.44" x2="1518.5" y2="1116.44" stroke="#000" stroke-width="2.8"/>
<text x="1466.61" y="1124.2">60</text>
<line x1="1509.3" y1="1054.42" x2="1518.5" y2="1054.42" stroke="#000" stroke-width="2.8"/>
<text x="1466.61" y="1062.4">80</text>
<line x1="1509.3" y1="992.4" x2="1518.5" y2="992.4" stroke="#000" stroke-width="2.8"/>
<text x="1451.41" y="1001.2">100</text>
<line x1="1509.3" y1="1302.5" x2="1756" y2="1302.5" stroke="#000" stroke-width="3.4"/>
<line x1="1781" y1="1302.5" x2="1934.1" y2="1302.5" stroke="#000" stroke-width="3.4"/>
<line x1="1518.5" y1="1302.5" x2="1518.5" y2="1312" stroke="#000" stroke-width="2.8"/>
<line x1="1597.3" y1="1302.5" x2="1597.3" y2="1312" stroke="#000" stroke-width="2.8"/>
<line x1="1675.5" y1="1302.5" x2="1675.5" y2="1312" stroke="#000" stroke-width="2.8"/>
<line x1="1932.7" y1="1302.5" x2="1932.7" y2="1312" stroke="#000" stroke-width="2.8"/>
<line x1="1747.5" y1="1310.6" x2="1763.7" y2="1294.9" stroke="#000" stroke-width="3"/>
<line x1="1771.6" y1="1310.6" x2="1788" y2="1294.9" stroke="#000" stroke-width="3"/>
<text x="1512.66" y="1348.4">0</text>
<text x="1589.6" y="1348.4">2</text>
<text x="1667.06" y="1348.4">4</text>
<text x="1737.39" y="1348.4">6</text>
<text x="1765.75" y="1348.4">12</text>
<text x="1917.38" y="1348.4">24</text>
<text x="1628.95" y="1391.3">Time post-RT (h)</text>
<text text-anchor="end" transform="translate(1425.6 1004.44) rotate(-90)">% <tspan font-family="'DejaVu Serif', 'Liberation Serif', serif" font-size="25" stroke-width="0.2">γ</tspan>-H2AX positive cells</text>
<path d="M1532.1 1140.9H1544.5M1538.3 1140.9V1177.4M1532.1 1177.4H1544.5" fill="none" stroke="#cf0d68" stroke-width="3.1"/>
<path d="M1747.6 1202.2H1760M1753.8 1202.2V1236.4M1747.6 1236.4H1760" fill="none" stroke="#cf0d68" stroke-width="3.1"/>
<path d="M1926.5 1241.5H1938.9M1932.7 1241.5V1267M1926.5 1267H1938.9" fill="none" stroke="#cf0d68" stroke-width="3.1"/>
<rect x="1512.75" y="1284.65" width="11.5" height="11.5" fill="#fff" stroke="#cf0d68" stroke-width="3.1" stroke-linejoin="round"/>
<rect x="1532.55" y="1153.65" width="11.5" height="11.5" fill="#fff" stroke="#cf0d68" stroke-width="3.1" stroke-linejoin="round"/>
<rect x="1591.65" y="1168.55" width="11.5" height="11.5" fill="#fff" stroke="#cf0d68" stroke-width="3.1" stroke-linejoin="round"/>
<rect x="1748.05" y="1213.55" width="11.5" height="11.5" fill="#fff" stroke="#cf0d68" stroke-width="3.1" stroke-linejoin="round"/>
<rect x="1926.95" y="1248.35" width="11.5" height="11.5" fill="#fff" stroke="#cf0d68" stroke-width="3.1" stroke-linejoin="round"/>
<polyline points="1518.5,1290.4 1538.3,1159.4 1597.4,1174.3 1753.8,1219.3" fill="none" stroke="#cf0d68" stroke-width="3.2" stroke-linejoin="round" stroke-dasharray="6.6 8.3" stroke-linecap="round"/>
<polyline points="1783.8,1225.3 1932.7,1254.1" fill="none" stroke="#cf0d68" stroke-width="3.2" stroke-linejoin="round" stroke-dasharray="6.6 8.3" stroke-linecap="round"/>
<path d="M1532.2 1016.1H1544.4M1538.3 1016.1V1061.1M1532.2 1061.1H1544.4" fill="none" stroke="#0505ff" stroke-width="2.9"/>
<path d="M1591.3 1067.4H1603.5M1597.4 1067.4V1086.7M1591.3 1086.7H1603.5" fill="none" stroke="#0505ff" stroke-width="2.9"/>
<path d="M1747.7 1119.3H1759.9M1753.8 1119.3V1138.6M1747.7 1138.6H1759.9" fill="none" stroke="#0505ff" stroke-width="2.9"/>
<path d="M1926.6 1152.7H1938.8M1932.7 1152.7V1170.2M1926.6 1170.2H1938.8" fill="none" stroke="#0505ff" stroke-width="2.9"/>
<polyline points="1518.5,1293.1 1538.3,1039 1597.4,1077.3 1753.8,1128.7" fill="none" stroke="#0505ff" stroke-width="2.8" stroke-linejoin="miter"/>
<polyline points="1778.4,1133.2 1932.7,1161.7" fill="none" stroke="#0505ff" stroke-width="2.8" stroke-linejoin="miter"/>
<circle cx="1518.5" cy="1293.1" r="6" fill="#0505ff"/>
<circle cx="1538.3" cy="1039" r="6" fill="#0505ff"/>
<circle cx="1597.4" cy="1077.3" r="6" fill="#0505ff"/>
<circle cx="1753.8" cy="1128.7" r="6" fill="#0505ff"/>
<circle cx="1932.7" cy="1161.7" r="6" fill="#0505ff"/>
<text x="1540.48" y="1146.8" font-size="36" font-weight="bold" letter-spacing="1.6">*</text>
<text x="1575.14" y="1171.2" font-size="36" font-weight="bold" letter-spacing="1.6">***</text>
<text x="1736.56" y="1204.2" font-size="36" font-weight="bold" letter-spacing="1.6">**</text>
<text x="1916.86" y="1245" font-size="36" font-weight="bold" letter-spacing="1.6">**</text>
<line x1="1917.4" y1="1010.4" x2="1952.2" y2="1010.4" stroke="#0505ff" stroke-width="3"/>
<circle cx="1934.5" cy="1010.4" r="6" fill="#0505ff"/>
<text x="1963.43" y="1019.2">Control</text>
<line x1="1916.9" y1="1052.1" x2="1924.2" y2="1052.1" stroke="#cf0d68" stroke-width="3.2"/>
<line x1="1947" y1="1052.1" x2="1950.4" y2="1052.1" stroke="#cf0d68" stroke-width="3.2"/>
<rect x="1928.5" y="1045.9" width="12.4" height="12.4" fill="#fff" stroke="#cf0d68" stroke-width="3.2" stroke-linejoin="round"/>
<line x1="1932.2" y1="1052.1" x2="1940.2" y2="1052.1" stroke="#cf0d68" stroke-width="3"/>
<text x="1964.04" y="1061.1">Nuc</text>
</g>
<g id="panel-h">
<text x="168.09" y="1472.3" font-size="41.5" font-weight="bold">h</text>
<text x="442.13" y="1479.3">DBTRG-05MG</text>
<line x1="264.1" y1="1512.25" x2="264.1" y2="1904.4" stroke="#000" stroke-width="3.4"/>
<line x1="249.7" y1="1902.7" x2="264.1" y2="1902.7" stroke="#000" stroke-width="3.1"/>
<text x="222.62" y="1910.5">0</text>
<line x1="249.7" y1="1824.92" x2="264.1" y2="1824.92" stroke="#000" stroke-width="3.1"/>
<text x="222.69" y="1833">5</text>
<line x1="249.7" y1="1747.14" x2="264.1" y2="1747.14" stroke="#000" stroke-width="3.1"/>
<text x="207.41" y="1756.9">10</text>
<line x1="249.7" y1="1669.36" x2="264.1" y2="1669.36" stroke="#000" stroke-width="3.1"/>
<text x="207.48" y="1678.6">15</text>
<line x1="249.7" y1="1591.58" x2="264.1" y2="1591.58" stroke="#000" stroke-width="3.1"/>
<text x="207.41" y="1602">20</text>
<line x1="249.7" y1="1513.8" x2="264.1" y2="1513.8" stroke="#000" stroke-width="3.1"/>
<text x="207.48" y="1524.1">25</text>
<line x1="249.7" y1="1902.7" x2="731.6" y2="1902.7" stroke="#000" stroke-width="3.4"/>
<line x1="321.8" y1="1902.7" x2="321.8" y2="1918.6" stroke="#000" stroke-width="3.1"/>
<line x1="438.5" y1="1902.7" x2="438.5" y2="1918.6" stroke="#000" stroke-width="3.1"/>
<line x1="555" y1="1902.7" x2="555" y2="1918.6" stroke="#000" stroke-width="3.1"/>
<line x1="671.7" y1="1902.7" x2="671.7" y2="1918.6" stroke="#000" stroke-width="3.1"/>
<text x="294.68" y="1950">0Gy</text>
<text x="430.76" y="1950">0</text>
<text x="537.39" y="1950">0.5</text>
<text x="662.67" y="1950">4</text>
<line x1="420.7" y1="1968.9" x2="728.9" y2="1968.9" stroke="#000" stroke-width="2.8"/>
<text x="471.55" y="2002.2">Time post-RT (h)</text>
<text transform="translate(185.8 1784.72) rotate(-90)">Tail moment</text>
<rect x="315.55" y="1865.95" width="13.5" height="13.5" fill="#fff" stroke="#cf0d68" stroke-width="3.3" stroke-linejoin="round"/>
<rect x="432.05" y="1603.35" width="13.5" height="13.5" fill="#fff" stroke="#cf0d68" stroke-width="3.3" stroke-linejoin="round"/>
<rect x="548.25" y="1769.45" width="13.5" height="13.5" fill="#fff" stroke="#cf0d68" stroke-width="3.3" stroke-linejoin="round"/>
<rect x="664.95" y="1852.25" width="13.5" height="13.5" fill="#fff" stroke="#cf0d68" stroke-width="3.3" stroke-linejoin="round"/>
<polyline points="322.3,1872.7 438.8,1610.1 555,1776.2 671.7,1859" fill="none" stroke="#cf0d68" stroke-width="3.4" stroke-linejoin="round" stroke-dasharray="7.6 11.4" stroke-linecap="round"/>
<path d="M315.7 1852.8H328.9M322.3 1852.8V1872.7M315.7 1872.7H328.9" fill="none" stroke="#0505ff" stroke-width="3.3"/>
<path d="M432.2 1548.9H445.4M438.8 1548.9V1620M432.2 1620H445.4" fill="none" stroke="#0505ff" stroke-width="3.3"/>
<path d="M548.4 1596.6H561.6M555 1596.6V1635.4M548.4 1635.4H561.6" fill="none" stroke="#0505ff" stroke-width="3.3"/>
<path d="M665.1 1765H678.3M671.7 1765V1799.6M665.1 1799.6H678.3" fill="none" stroke="#0505ff" stroke-width="3.3"/>
<polyline points="322.3,1862.8 438.8,1584.6 555,1616.4 671.7,1782.5" fill="none" stroke="#0505ff" stroke-width="3.4" stroke-linejoin="miter"/>
<circle cx="322.3" cy="1862.8" r="6.6" fill="#0505ff"/>
<circle cx="438.8" cy="1584.6" r="6.6" fill="#0505ff"/>
<circle cx="555" cy="1616.4" r="6.6" fill="#0505ff"/>
<circle cx="671.7" cy="1782.5" r="6.6" fill="#0505ff"/>
<text x="548.56" y="1771.1" font-size="36" font-weight="bold" letter-spacing="1.6">**</text>
<text x="666.18" y="1844.2" font-size="36" font-weight="bold" letter-spacing="1.6">*</text>
<line x1="726" y1="1551.3" x2="762" y2="1551.3" stroke="#0505ff" stroke-width="3.4"/>
<circle cx="743.7" cy="1551.3" r="6.7" fill="#0505ff"/>
<text x="773.23" y="1560.6">Control</text>
<line x1="726" y1="1602.4" x2="733.8" y2="1602.4" stroke="#cf0d68" stroke-width="3.4"/>
<line x1="758" y1="1602.4" x2="762" y2="1602.4" stroke="#cf0d68" stroke-width="3.4"/>
<rect x="737.15" y="1595.85" width="13.1" height="13.1" fill="#fff" stroke="#cf0d68" stroke-width="3.5" stroke-linejoin="round"/>
<line x1="740.7" y1="1602.4" x2="750.5" y2="1602.4" stroke="#cf0d68" stroke-width="3.4"/>
<text x="772.34" y="1609.2">Nuc</text>
</g>
<g id="panel-i">
<text x="1172.5" y="1472" font-size="41.5" font-weight="bold">i</text>
<text x="1459.01" y="1479.3">GB-1</text>
<line x1="1262.3" y1="1501.25" x2="1262.3" y2="1892.6" stroke="#000" stroke-width="3.8"/>
<line x1="1247" y1="1890.7" x2="1262.3" y2="1890.7" stroke="#000" stroke-width="3.5"/>
<text x="1220.22" y="1900">0</text>
<line x1="1247" y1="1793.78" x2="1262.3" y2="1793.78" stroke="#000" stroke-width="3.5"/>
<text x="1220.29" y="1802.4">5</text>
<line x1="1247" y1="1696.85" x2="1262.3" y2="1696.85" stroke="#000" stroke-width="3.5"/>
<text x="1205.01" y="1706.5">10</text>
<line x1="1247" y1="1599.92" x2="1262.3" y2="1599.92" stroke="#000" stroke-width="3.5"/>
<text x="1205.08" y="1608.7">15</text>
<line x1="1247" y1="1503" x2="1262.3" y2="1503" stroke="#000" stroke-width="3.5"/>
<text x="1205.01" y="1512">20</text>
<line x1="1247" y1="1890.7" x2="1759.3" y2="1890.7" stroke="#000" stroke-width="3.8"/>
<line x1="1323.6" y1="1890.7" x2="1323.6" y2="1906.9" stroke="#000" stroke-width="3.5"/>
<line x1="1447.8" y1="1890.7" x2="1447.8" y2="1906.9" stroke="#000" stroke-width="3.5"/>
<line x1="1571.7" y1="1890.7" x2="1571.7" y2="1906.9" stroke="#000" stroke-width="3.5"/>
<line x1="1695.4" y1="1890.7" x2="1695.4" y2="1906.9" stroke="#000" stroke-width="3.5"/>
<text x="1297.08" y="1940.8">0Gy</text>
<text x="1440.06" y="1940.8">0</text>
<text x="1552.69" y="1940.8">0.5</text>
<text x="1688.96" y="1940.8">4</text>
<line x1="1428.2" y1="1959.3" x2="1737.4" y2="1959.3" stroke="#000" stroke-width="2.8"/>
<text x="1485.65" y="1994.1">Time post-RT (h)</text>
<text transform="translate(1183.7 1773.32) rotate(-90)">Tail moment</text>
<path d="M1440.4 1620H1455.2M1447.8 1620V1674.8M1440.4 1674.8H1455.2" fill="none" stroke="#cf0d68" stroke-width="3.8"/>
<path d="M1564.3 1763.2H1579.1M1571.7 1763.2V1792.4M1564.3 1792.4H1579.1" fill="none" stroke="#cf0d68" stroke-width="3.8"/>
<path d="M1688 1822.1H1702.8M1695.4 1822.1V1847.9M1688 1847.9H1702.8" fill="none" stroke="#cf0d68" stroke-width="3.8"/>
<rect x="1317.3" y="1829.8" width="13.6" height="13.6" fill="#fff" stroke="#cf0d68" stroke-width="3.6" stroke-linejoin="round"/>
<rect x="1441" y="1640.3" width="13.6" height="13.6" fill="#fff" stroke="#cf0d68" stroke-width="3.6" stroke-linejoin="round"/>
<rect x="1564.9" y="1771.2" width="13.6" height="13.6" fill="#fff" stroke="#cf0d68" stroke-width="3.6" stroke-linejoin="round"/>
<rect x="1688.6" y="1827.9" width="13.6" height="13.6" fill="#fff" stroke="#cf0d68" stroke-width="3.6" stroke-linejoin="round"/>
<polyline points="1324.1,1836.6 1447.8,1647.1 1571.7,1778 1695.4,1834.7" fill="none" stroke="#cf0d68" stroke-width="4" stroke-linejoin="round" stroke-dasharray="7 10.5" stroke-linecap="round"/>
<path d="M1440.4 1597.9H1455.2M1447.8 1597.9V1672.6M1440.4 1672.6H1455.2" fill="none" stroke="#0505ff" stroke-width="3.8"/>
<path d="M1564.3 1655.7H1579.1M1571.7 1655.7V1706.7M1564.3 1706.7H1579.1" fill="none" stroke="#0505ff" stroke-width="3.8"/>
<path d="M1687.7 1723H1702.5M1695.1 1723V1763.2M1687.7 1763.2H1702.5" fill="none" stroke="#0505ff" stroke-width="3.8"/>
<polyline points="1323.9,1841.1 1447.8,1635 1571.7,1681.3 1695.1,1742.9" fill="none" stroke="#0505ff" stroke-width="4" stroke-linejoin="miter"/>
<circle cx="1323.9" cy="1841.1" r="7" fill="#0505ff"/>
<circle cx="1447.8" cy="1635" r="7" fill="#0505ff"/>
<circle cx="1571.7" cy="1681.3" r="7" fill="#0505ff"/>
<circle cx="1695.1" cy="1742.9" r="7" fill="#0505ff"/>
<text x="1564.08" y="1763.1" font-size="36" font-weight="bold" letter-spacing="1.6">*</text>
<text x="1677.56" y="1816.3" font-size="36" font-weight="bold" letter-spacing="1.6">**</text>
<line x1="1706.8" y1="1539.6" x2="1745" y2="1539.6" stroke="#0505ff" stroke-width="4"/>
<circle cx="1725.7" cy="1539.6" r="7.2" fill="#0505ff"/>
<text x="1756.13" y="1548.9">Control</text>
<line x1="1706.8" y1="1590.3" x2="1714.6" y2="1590.3" stroke="#cf0d68" stroke-width="4"/>
<line x1="1741" y1="1590.3" x2="1745" y2="1590.3" stroke="#cf0d68" stroke-width="4"/>
<rect x="1718.6" y="1583.2" width="14.2" height="14.2" fill="#fff" stroke="#cf0d68" stroke-width="3.8" stroke-linejoin="round"/>
<line x1="1722.7" y1="1590.3" x2="1733.2" y2="1590.3" stroke="#cf0d68" stroke-width="4"/>
<text x="1755.84" y="1596.6">Nuc</text>
</g>
</svg>
</body>
</html>
